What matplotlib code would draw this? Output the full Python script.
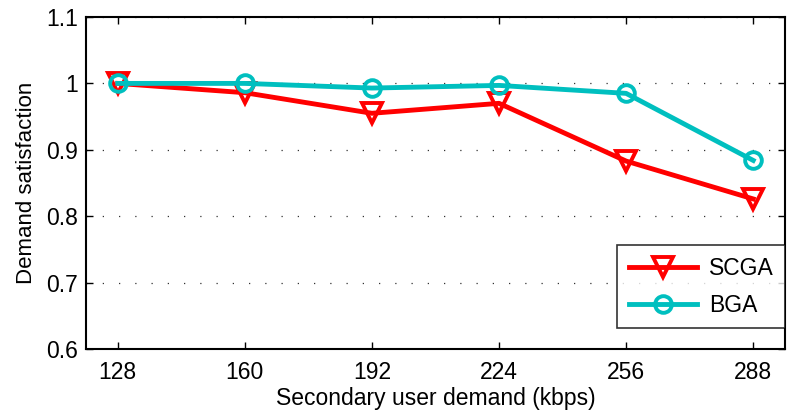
import matplotlib
matplotlib.use("Agg")
import matplotlib.pyplot as plt

demand = [128, 160, 192, 224, 256, 288]
scga = [1.0, 0.986, 0.955, 0.970, 0.883, 0.826]
bga = [1.0, 1.0, 0.993, 0.997, 0.985, 0.884]
yticks = [0.6, 0.7, 0.8, 0.9, 1.0, 1.1]
ytick_labels = ["0.6", "0.7", "0.8", "0.9", "1", "1.1"]

plt.rcParams['font.family'] = ['Liberation Sans', 'DejaVu Sans']

fig = plt.figure(figsize=(7.91, 4.11), dpi=100)
ax = fig.add_axes([0.1087, 0.1509, 0.8837, 0.8077])

ax.plot(demand, scga, color='#ff0000', lw=3.5, marker='v', ms=15,
        mfc='none', mec='#ff0000', mew=2.8, label='SCGA')
ax.plot(demand, bga, color='#00bfbf', lw=3.5, marker='o', ms=12,
        mfc='none', mec='#00bfbf', mew=2.8, label='BGA')

ax.set_xlim(120, 296)
ax.set_ylim(0.6, 1.1)
ax.set_xticks(demand)
ax.set_yticks(yticks)
ax.set_yticklabels(ytick_labels)
ax.tick_params(direction='in', top=True, right=True, labelsize=16.5, length=5, width=1)
ax.tick_params(axis='x', pad=9)
ax.tick_params(axis='y', pad=6)
ax.yaxis.grid(True, linestyle=(0, (1, 12)), color='#333333', lw=0.9)
for s in ax.spines.values():
    s.set_linewidth(1.5)

ax.set_xlabel('Secondary user demand (kbps)', fontsize=16.5, labelpad=2)
ax.set_ylabel('Demand satisfaction', fontsize=16, labelpad=6)

leg = ax.legend(loc='lower right', fontsize=16.5, frameon=True, fancybox=False,
                edgecolor='black', borderpad=0.5, handlelength=3.0, handletextpad=0.5,
                labelspacing=0.6, borderaxespad=0.0,
                bbox_to_anchor=(1.0, 0.063))
leg.get_frame().set_linewidth(1.2)

fig.savefig('out.png', dpi=100)
